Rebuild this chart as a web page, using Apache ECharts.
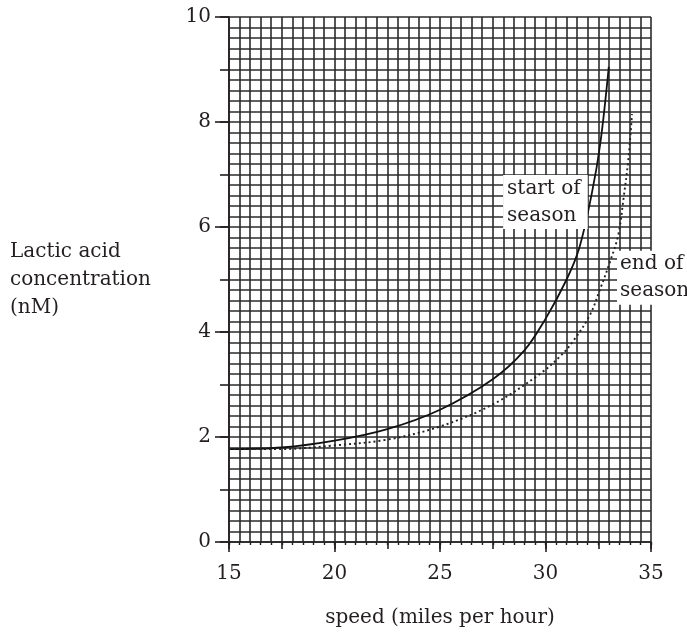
<!DOCTYPE html>
<html lang="en">
<head>
    <meta charset="UTF-8">
    <style>
        html, body { margin: 0; padding: 0; background: #fff; }
        #main { width: 687px; height: 633px; }
    </style>
    <script src="https://cdn.jsdelivr.net/npm/echarts@6/dist/echarts.min.js"></script>
    <title>Lactic acid</title>
</head>
<body>
    <div id="main"></div>
    <script>
        // values
        var speedStart = [15, 17.5, 20, 22.5, 25, 27.5, 29, 30, 31, 31.6, 32.2, 32.6, 33.0];
        var lacticStart = [1.77, 1.8, 1.93, 2.15, 2.52, 3.1, 3.65, 4.25, 5.0, 5.6, 6.65, 7.6, 9.05];
        var speedEnd = [15, 17.5, 20, 22.5, 25, 27.5, 29.7, 30.7, 31.3, 32.1, 32.6, 33.06, 33.45, 33.7, 33.93, 34.1];
        var lacticEnd = [1.77, 1.77, 1.84, 1.95, 2.2, 2.62, 3.19, 3.54, 3.82, 4.32, 4.83, 5.34, 5.85, 6.55, 7.3, 8.15];
        var xLabels = [15, 20, 25, 30, 35];
        var yLabels = [0, 2, 4, 6, 8, 10];

        var ink = '#231f20';
        var font = 'DejaVu Serif';

        function pairs(xs, ys) {
            return xs.map(function (x, i) { return [x, ys[i]]; });
        }

        var myChart = echarts.init(document.getElementById('main'));
        var option = {
            animation: false,
            grid: { left: 229, right: 36, top: 17, bottom: 88 },
            xAxis: [{
                // fine grid every 0.5
                type: 'value', min: 15, max: 35, interval: 0.5, position: 'bottom',
                axisLine: { show: true, lineStyle: { color: ink, width: 1.6 } },
                axisTick: { show: true, length: 3, lineStyle: { color: ink, width: 1.4 } },
                axisLabel: { show: false },
                splitLine: { show: true, lineStyle: { color: '#2b2b2b', width: 1.6 } }
            }, {
                type: 'value', min: 15, max: 35, interval: 2.5, position: 'bottom',
                axisLine: { show: false },
                axisTick: { show: true, length: 7, lineStyle: { color: ink, width: 1.6 } },
                axisLabel: { show: false },
                splitLine: { show: false }
            }, {
                type: 'value', min: 15, max: 35, interval: 5, position: 'bottom',
                axisLine: { show: false },
                axisTick: { show: true, length: 10, lineStyle: { color: ink, width: 1.6 } },
                axisLabel: {
                    show: true, margin: 22, color: ink, fontFamily: font, fontSize: 20,
                    formatter: function (v) { return xLabels.indexOf(v) >= 0 ? String(v) : ''; }
                },
                splitLine: { show: false },
                name: 'speed (miles per hour)',
                nameLocation: 'middle',
                nameGap: 66,
                nameTextStyle: { color: ink, fontFamily: font, fontSize: 20 }
            }],
            yAxis: [{
                // fine grid every 0.2
                type: 'value', min: 0, max: 10, interval: 0.2, position: 'left',
                axisLine: { show: true, lineStyle: { color: ink, width: 1.6 } },
                axisTick: { show: false },
                axisLabel: { show: false },
                splitLine: { show: true, lineStyle: { color: '#2b2b2b', width: 1.6 } }
            }, {
                type: 'value', min: 0, max: 10, interval: 1, position: 'left',
                axisLine: { show: false },
                axisTick: { show: true, length: 9, lineStyle: { color: ink, width: 1.6 } },
                axisLabel: { show: false },
                splitLine: { show: false }
            }, {
                type: 'value', min: 0, max: 10, interval: 2, position: 'left',
                axisLine: { show: false },
                axisTick: { show: true, length: 14, lineStyle: { color: ink, width: 1.6 } },
                axisLabel: {
                    show: true, margin: 18, color: ink, fontFamily: font, fontSize: 20,
                    formatter: function (v) { return yLabels.indexOf(v) >= 0 ? String(v) : ''; }
                },
                splitLine: { show: false },
                name: 'Lactic acid\nconcentration\n(nM)',
                nameLocation: 'middle',
                nameRotate: 0,
                nameGap: 219,
                nameTextStyle: { color: ink, fontFamily: font, fontSize: 20, lineHeight: 28, align: 'left' }
            }],
            series: [{
                name: 'start of season',
                type: 'line',
                xAxisIndex: 0, yAxisIndex: 0,
                smooth: 0.35,
                symbol: 'none',
                lineStyle: { color: '#111', width: 1.8 },
                data: pairs(speedStart, lacticStart),
                markPoint: {
                    symbol: 'rect', symbolSize: 0,
                    data: [{ coord: [27.99, 6.99] }],
                    label: {
                        show: true, position: [0, 0],
                        formatter: 'start of\nseason',
                        backgroundColor: '#fff', padding: [0, 7, 0, 4],
                        color: ink, fontFamily: font, fontSize: 20, lineHeight: 27
                    }
                }
            }, {
                name: 'end of season',
                type: 'line',
                xAxisIndex: 0, yAxisIndex: 0,
                smooth: 0.35,
                symbol: 'none',
                lineStyle: { color: '#222', width: 1.9, type: [2, 3] },
                data: pairs(speedEnd, lacticEnd),
                markPoint: {
                    symbol: 'rect', symbolSize: 0,
                    data: [{ coord: [33.39, 5.55] }],
                    label: {
                        show: true, position: [0, 0],
                        formatter: 'end of\nseason',
                        backgroundColor: '#fff', padding: [0, 6, 0, 3],
                        color: ink, fontFamily: font, fontSize: 20, lineHeight: 27
                    }
                }
            }]
        };
        myChart.setOption(option);
    </script>
</body>
</html>
